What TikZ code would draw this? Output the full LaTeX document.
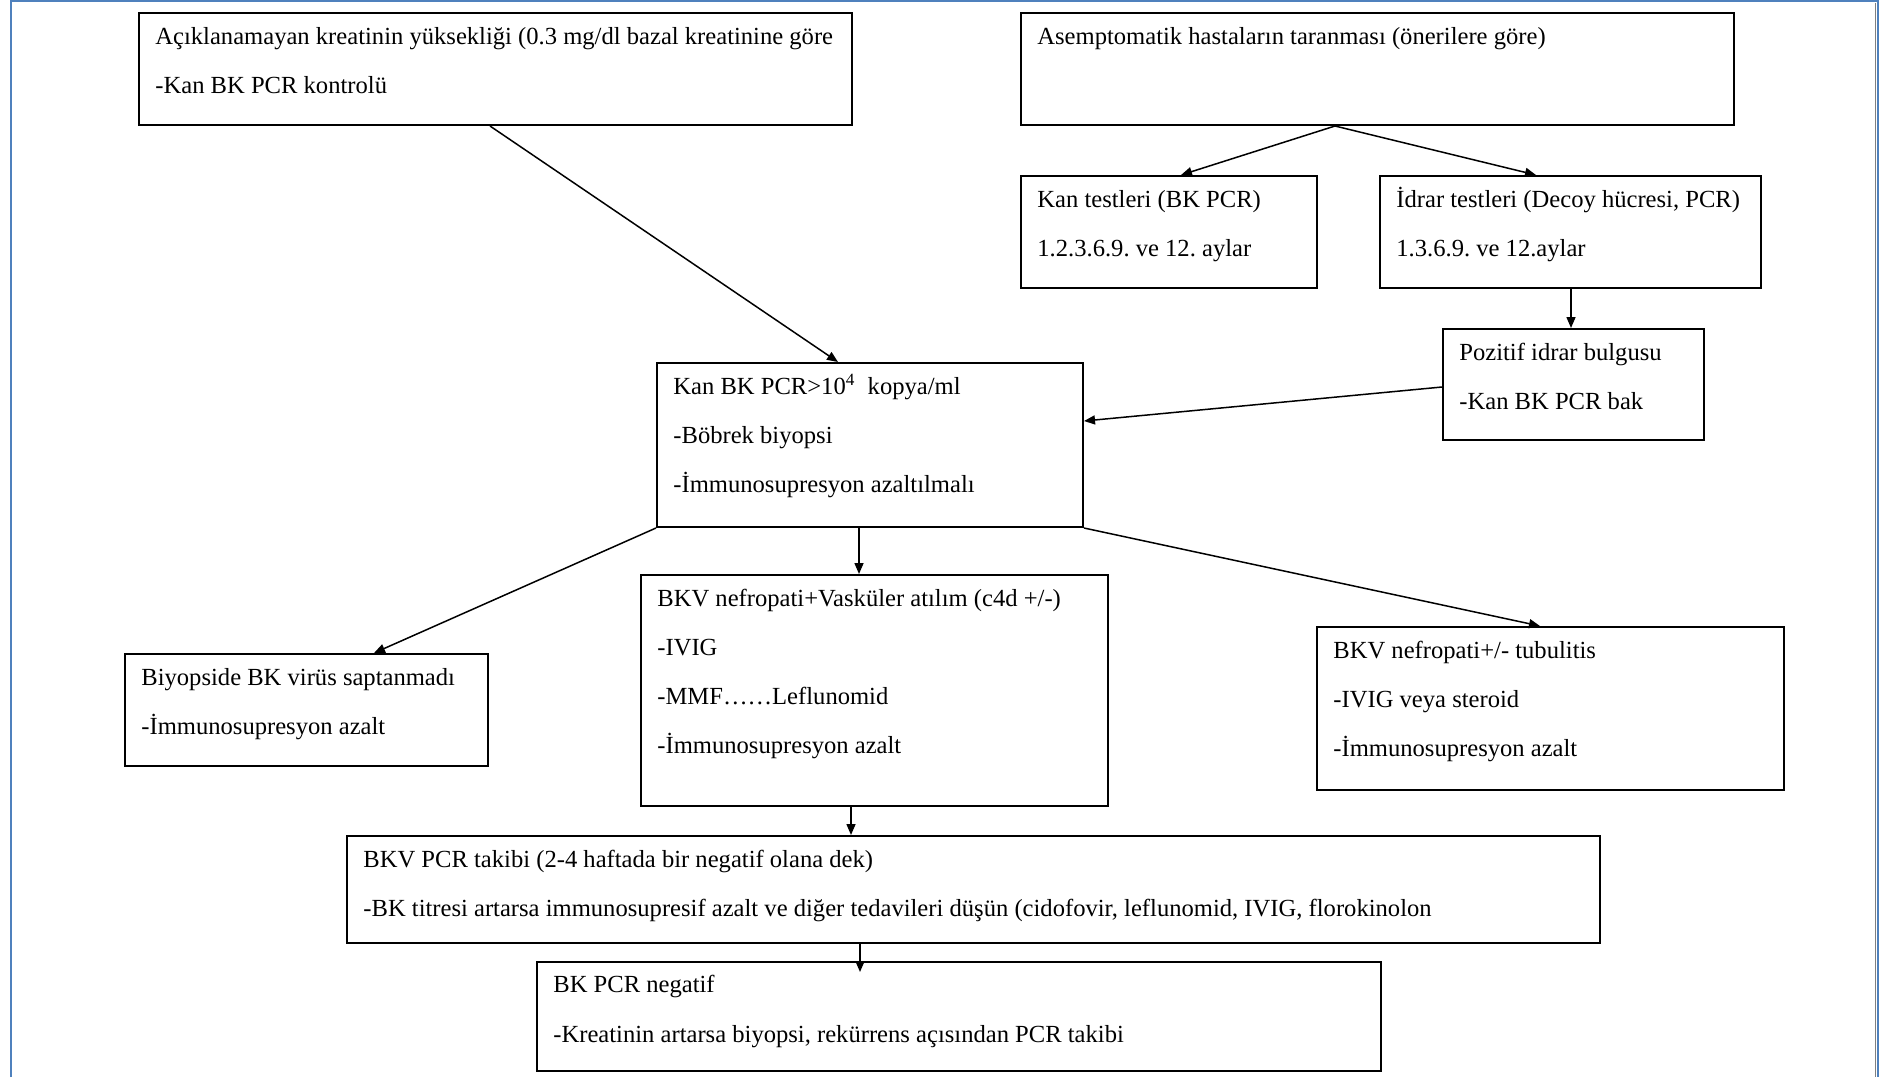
\documentclass[tikz,border=0pt]{standalone}
\usepackage{fontspec}
\setmainfont{Liberation Serif}
\usetikzlibrary{arrows.meta,calc,fit}
\definecolor{frameblue}{RGB}{79,129,189}
\definecolor{framegray}{RGB}{128,128,128}
\newcommand\boxtext[1]{\vtop{\baselineskip=24.5pt\lineskiplimit=-20pt #1}}
\newcommand\myline[1]{\hbox{#1}}
\frenchspacing
\begin{document}
\begin{tikzpicture}[x=0.5pt,y=-0.5pt,
  box/.style={draw,line width=1pt,inner sep=0pt},
  txt/.style={anchor=base west,inner sep=0pt,font=\fontsize{12.3}{24.5}\selectfont},
  arr/.style={line width=0.75pt,-{Triangle[length=5.5pt,width=4.5pt]}}]
\useasboundingbox (0,0) rectangle (1879,1077);
\fill[white] (0,0) rectangle (1879,1077);
% frame
\draw[frameblue,line width=1.2pt] (11,1077) -- (11,1) -- (1878,1) -- (1878,1077);
\draw[framegray,line width=0.5pt] (1875.5,3) -- (1875.5,1077);
% boxes
\node[box,fit={(139,13) (852,125)}] (b1) {};
\node[box,fit={(1021,13) (1734,125)}] (b2) {};
\node[box,fit={(1021,176) (1317,288)}] (b3) {};
\node[box,fit={(1380,176) (1761,288)}] (b4) {};
\node[box,fit={(1443,329) (1704,440)}] (b5) {};
\node[box,fit={(657,363) (1083,527)}] (b6) {};
\node[box,fit={(125,654) (488,766)}] (b7) {};
\node[box,fit={(641,575) (1108,806)}] (b8) {};
\node[box,fit={(1317,627) (1784,790)}] (b9) {};
\node[box,fit={(347,836) (1600,943)}] (b10) {};
\node[box,fit={(537,962) (1381,1071)}] (b11) {};
% texts
\node[txt] (t1) at ($(b1.north west)+(17,32)$) {\boxtext{%
  \myline{Açıklanamayan kreatinin yüksekliği (0.3 mg/dl bazal kreatinine göre}%
  \myline{-Kan BK PCR kontrolü}}};
\node[txt] (t2) at ($(b2.north west)+(17,32)$) {\boxtext{%
  \myline{Asemptomatik hastaların taranması (önerilere göre)}}};
\node[txt] (t3) at ($(b3.north west)+(17,32)$) {\boxtext{%
  \myline{Kan testleri (BK PCR)}%
  \myline{1.2.3.6.9. ve 12. aylar}}};
\node[txt] (t4) at ($(b4.north west)+(17,32)$) {\boxtext{%
  \myline{İdrar testleri (Decoy hücresi, PCR)}%
  \myline{1.3.6.9. ve 12.aylar}}};
\node[txt] (t5) at ($(b5.north west)+(17,32)$) {\boxtext{%
  \myline{Pozitif idrar bulgusu}%
  \myline{-Kan BK PCR bak}}};
\node[txt] (t6) at ($(b6.north west)+(17,32)$) {\boxtext{%
  \myline{Kan BK PCR>10\textsuperscript{4}\ \ kopya/ml}%
  \myline{-Böbrek biyopsi}%
  \myline{-İmmunosupresyon azaltılmalı}}};
\node[txt] (t7) at ($(b7.north west)+(17,32)$) {\boxtext{%
  \myline{Biyopside BK virüs saptanmadı}%
  \myline{-İmmunosupresyon azalt}}};
\node[txt] (t8) at ($(b8.north west)+(17,32)$) {\boxtext{%
  \myline{BKV nefropati+Vasküler atılım (c4d +/-)}%
  \myline{-IVIG}%
  \myline{-MMF……Leflunomid}%
  \myline{-İmmunosupresyon azalt}}};
\node[txt] (t9) at ($(b9.north west)+(17,32)$) {\boxtext{%
  \myline{BKV nefropati+/- tubulitis}%
  \myline{-IVIG veya steroid}%
  \myline{-İmmunosupresyon azalt}}};
\node[txt] (t10) at ($(b10.north west)+(17,32)$) {\boxtext{%
  \myline{BKV PCR takibi (2-4 haftada bir negatif olana dek)}%
  \myline{-BK titresi artarsa immunosupresif azalt ve diğer tedavileri düşün (cidofovir, leflunomid, IVIG, florokinolon}}};
\node[txt] (t11) at ($(b11.north west)+(17,31)$) {\boxtext{\baselineskip=25pt
  \myline{BK PCR negatif}%
  \myline{-Kreatinin artarsa biyopsi, rekürrens açısından PCR takibi}}};
% connectors
\draw[arr] ($(b1.south west)+(352,0)$) -- ($(b6.north west)+(182,0)$);
\draw[arr] ($(b2.south west)+(315,0)$) -- ($(b3.north west)+(161,0)$);
\draw[arr] ($(b2.south west)+(315,0)$) -- ($(b4.north west)+(157,0)$);
\draw[arr] ($(b4.south west)+(192,0)$) -- ($(b5.north west)+(129,0)$);
\draw[arr] ($(b5.north west)+(0,59)$) -- ($(b6.north east)+(0,59)$);
\draw[arr] (b6.south west) -- ($(b7.north west)+(250,0)$);
\draw[arr] ($(b6.south west)+(203,0)$) -- ($(b8.north west)+(219,0)$);
\draw[arr] (b6.south east) -- ($(b9.north west)+(224,0)$);
\draw[arr] ($(b8.south west)+(211,0)$) -- ($(b10.north west)+(505,0)$);
\draw[arr] ($(b10.south west)+(514,0)$) -- ($(b11.north west)+(324,11)$);
\end{tikzpicture}
\end{document}
